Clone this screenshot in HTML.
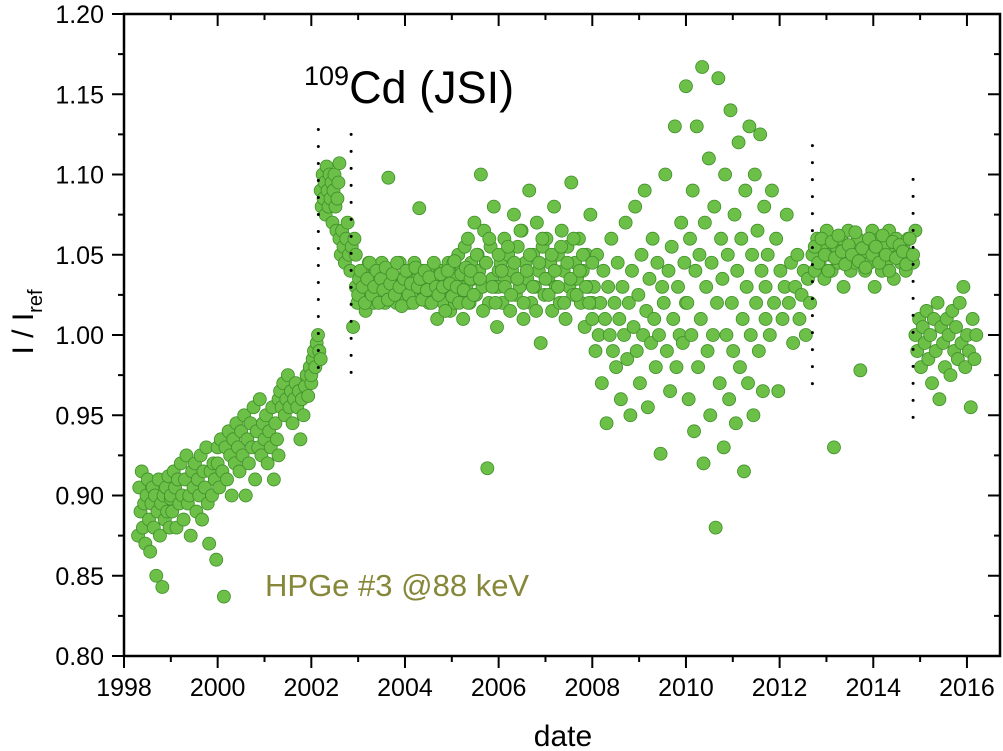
<!DOCTYPE html>
<html><head><meta charset="utf-8"><style>
html,body{margin:0;padding:0;background:#fff;}
svg{display:block;font-family:"Liberation Sans",Arial,sans-serif;}
</style></head><body>
<svg id="chart" width="1003" height="751" xmlns="http://www.w3.org/2000/svg">
<g id="dots"></g>
<g id="vlines"></g>
<g id="axes"></g>
<text x="304" y="103" font-size="45"><tspan font-size="27" dy="-18">109</tspan><tspan dy="18">Cd (JSI)</tspan></text>
<text x="265" y="596" font-size="31" fill="#87873a">HPGe #3 @88 keV</text>
<text transform="translate(33,322) rotate(-90)" font-size="30" text-anchor="middle">I / I<tspan font-size="20" dy="9">ref</tspan></text>
<text x="563" y="746" font-size="30" text-anchor="middle">date</text>
</svg>
<script>
const segStart=[1998.3,1999.0,2000.0,2001.3,2002.0,2002.2,2002.6,2002.95,2005.0,2006.0,2008.0,2010.0,2011.7,2012.7,2014.9,2003.0,2005.4,2012.75];
const segEnd=[1999.0,2000.0,2001.3,2002.0,2002.2,2002.6,2002.95,2005.0,2006.0,2008.0,2010.0,2011.7,2012.65,2014.9,2016.2,2005.4,2008.0,2014.85];
const segValues=[
[0.875,0.905,0.89,0.915,0.88,0.895,0.87,0.9,0.91,0.885,0.865,0.895,0.905,0.88,0.9,0.85,0.89,0.91,0.875,0.895,0.843,0.9,0.885,0.905,0.89,0.912,0.88,0.898],
[0.9,0.89,0.915,0.905,0.88,0.91,0.895,0.92,0.9,0.885,0.91,0.925,0.895,0.9,0.875,0.915,0.905,0.92,0.89,0.91,0.9,0.925,0.885,0.915,0.905,0.93,0.895,0.87,0.915,0.9,0.92,0.91,0.86,0.93],
[0.92,0.905,0.935,0.915,0.837,0.93,0.91,0.94,0.925,0.9,0.935,0.92,0.945,0.93,0.915,0.94,0.925,0.95,0.9,0.935,0.92,0.945,0.93,0.955,0.91,0.94,0.93,0.96,0.925,0.945,0.935,0.95,0.92,0.94,0.93,0.955,0.91,0.945,0.935,0.925],
[0.96,0.965,0.955,0.97,0.95,0.96,0.975,0.955,0.965,0.945,0.96,0.97,0.955,0.965,0.935,0.96,0.95,0.968,0.975,0.962,0.98,0.97],
[0.975,0.985,0.99,0.98,0.995,1.0,0.99,0.985],
[1.09,1.08,1.1,1.085,1.095,1.075,1.105,1.09,1.08,1.1,1.085,1.095,1.07,1.09,1.1,1.08,1.065,1.085,1.095,1.107],
[1.06,1.05,1.065,1.055,1.045,1.06,1.07,1.05,1.04,1.055,1.005,1.06,1.05],
[1.03,1.02,1.035,1.025,1.04,1.03,1.015,1.035,1.045,1.025,1.03,1.02,1.04,1.03,1.035,1.025,1.045,1.03,1.02,1.035,1.098,1.03,1.04,1.025,1.035,1.02,1.03,1.045,1.03,1.035,1.025,1.04,1.03,1.02,1.035,1.03,1.045,1.025,1.035,1.079,1.03,1.04,1.025,1.03,1.035,1.02,1.04,1.03,1.025,1.035,1.01,1.03,1.04,1.025,1.02,1.035,1.03,1.045,1.015,1.03],
[1.03,1.045,1.02,1.035,1.05,1.025,1.04,1.01,1.055,1.03,1.06,1.02,1.045,1.035,1.07,1.025,1.05,1.04,1.1,1.03,1.065,1.045,0.917,1.02,1.055,1.035,1.08,1.03,1.005,1.04],
[1.03,1.045,1.02,1.06,1.035,1.05,1.015,1.04,1.075,1.025,1.055,1.03,1.065,1.01,1.045,1.035,1.09,1.02,1.05,1.03,1.07,1.04,0.995,1.055,1.025,1.06,1.035,1.045,1.015,1.08,1.03,1.05,1.02,1.065,1.04,1.01,1.055,1.03,1.095,1.025,1.045,1.035,1.06,1.02,1.04,1.005,1.05,1.03,1.075,1.02],
[1.01,1.03,0.99,1.05,1.0,1.02,0.97,1.04,1.01,0.945,1.03,1.0,1.06,0.99,1.02,0.98,1.045,1.01,0.96,1.03,1.0,1.07,0.985,1.02,0.95,1.04,1.005,1.08,0.99,1.025,0.97,1.05,1.0,1.09,1.015,0.955,1.035,0.995,1.06,1.01,0.98,1.045,1.0,0.926,1.03,1.02,1.1,0.99,1.04,0.965,1.055,1.01,1.13,0.98,1.03,1.0,1.07,0.995,1.045,1.02],
[1.155,1.02,0.96,1.06,1.0,1.09,0.94,1.04,1.13,0.98,1.05,1.01,1.167,0.92,1.07,1.03,0.99,1.11,0.95,1.045,1.0,1.08,0.88,1.02,1.16,0.97,1.06,1.035,0.93,1.1,1.0,1.05,0.96,1.14,1.02,0.99,1.075,0.945,1.04,1.12,0.98,1.06,1.01,0.915,1.09,1.03,0.97,1.13,1.0,1.05,0.95,1.1,1.02,1.065,0.99,1.125,1.04,0.965,1.08,1.01],
[1.03,1.05,1.0,1.09,1.02,1.06,0.965,1.04,1.01,1.03,1.075,1.02,1.045,0.995,1.03,1.05,1.01,1.025,1.04,1.0,1.035,1.02],
[1.05,1.04,1.06,1.045,1.055,1.035,1.065,1.05,1.04,0.93,1.055,1.045,1.06,1.03,1.05,1.065,1.04,1.055,1.045,1.06,0.978,1.05,1.04,1.055,1.045,1.065,1.03,1.05,1.06,1.04,1.055,1.045,1.065,1.05,1.035,1.06,1.05,1.045,1.055,1.04,1.06,1.05,1.045,1.065],
[1.0,0.99,1.01,0.98,1.005,0.995,1.015,0.985,1.0,0.97,1.01,0.99,1.02,0.96,1.005,0.995,0.98,1.01,1.0,0.975,1.015,0.99,1.005,0.985,1.02,0.995,1.03,0.98,1.0,0.99,0.955,1.01,0.985,1.0],
[1.025,1.04,1.03,1.02,1.035,1.045,1.025,1.03,1.04,1.02,1.035,1.028,1.042,1.022,1.032,1.038,1.025,1.045,1.03,1.018,1.035,1.04,1.025,1.032,1.02,1.042,1.03,1.035,1.022,1.04,1.028,1.036,1.02,1.045,1.03,1.025,1.038,1.03,1.015,1.04,1.032,1.024,1.046,1.03,1.02,1.038,1.028,1.042,1.02,1.035],
[1.04,1.025,1.05,1.035,1.015,1.045,1.06,1.03,1.02,1.05,1.04,1.03,1.055,1.025,1.045,1.035,1.065,1.02,1.04,1.05,1.03,1.015,1.045,1.06,1.035,1.025,1.05,1.04,1.03,1.055,1.02,1.045,1.035,1.06,1.025,1.04,1.05,1.03,1.02,1.045],
[1.055,1.045,1.06,1.05,1.04,1.058,1.048,1.062,1.052,1.044,1.056,1.05,1.064,1.046,1.054,1.042,1.06,1.05,1.055,1.045,1.062,1.05,1.04,1.058,1.048,1.056,1.052,1.044,1.06,1.05]
];
const boundaryDates=[2002.15,2002.85,2012.7,2014.85];
const boundaryTop=[1.128,1.125,1.118,1.097];
const boundaryBottom=[0.975,0.972,0.966,0.945];
const xTicks=[1998,2000,2002,2004,2006,2008,2010,2012,2014,2016];
const yTicks=[0.80,0.85,0.90,0.95,1.00,1.05,1.10,1.15,1.20];

const X0=124,X1=1000,Y0=656,Y1=14;
const xs=d=>124+(d-1998)*46.83;
const ys=v=>656-(v-0.80)*1605;
const NS="http://www.w3.org/2000/svg";
function mk(tag,attrs,parent){const e=document.createElementNS(NS,tag);for(const k in attrs)e.setAttribute(k,attrs[k]);parent.appendChild(e);return e;}

const dots=document.getElementById('dots');
segValues.forEach((vals,s)=>{
  const n=vals.length;
  vals.forEach((v,i)=>{
    const d=segStart[s]+(n>1?i*(segEnd[s]-segStart[s])/(n-1):0);
    const c=mk('circle',{cx:xs(d),cy:ys(v),r:6.5,fill:'#6cbf47',stroke:'#3f8f2a','stroke-width':0.8},dots);
    
    
  });
});

const vl=document.getElementById('vlines');
boundaryDates.forEach((d,i)=>{
  const l=mk('line',{x1:xs(d),x2:xs(d),y1:ys(boundaryTop[i]),y2:ys(boundaryBottom[i]),stroke:'#000','stroke-width':3,'stroke-dasharray':'0 17','stroke-linecap':'round'},vl);
  
  
});

const ax=document.getElementById('axes');
const fr=mk('rect',{x:X0,y:Y1,width:X1-X0,height:Y0-Y1,fill:'none',stroke:'#000','stroke-width':2.5},ax);


xTicks.forEach((t,i)=>{
  const x=xs(t);
  mk('line',{x1:x,x2:x,y1:Y0,y2:Y0+12,stroke:'#000','stroke-width':2},ax);
  mk('line',{x1:x,x2:x,y1:Y1,y2:Y1+12,stroke:'#000','stroke-width':2},ax);
  const xm=xs(t+1);
  if(xm<X1){mk('line',{x1:xm,x2:xm,y1:Y0,y2:Y0+6,stroke:'#000','stroke-width':2},ax);mk('line',{x1:xm,x2:xm,y1:Y1,y2:Y1+6,stroke:'#000','stroke-width':2},ax);}
  const tx=mk('text',{x:x,y:Y0+40,'font-size':25,'text-anchor':'middle'},ax);
  tx.textContent=t;
  
  
});
yTicks.forEach((t,i)=>{
  const y=ys(t);
  mk('line',{x1:X0-12,x2:X0,y1:y,y2:y,stroke:'#000','stroke-width':2},ax);
  mk('line',{x1:X1-12,x2:X1,y1:y,y2:y,stroke:'#000','stroke-width':2},ax);
  if(i<yTicks.length-1){const ym=ys(t+0.025);mk('line',{x1:X0-6,x2:X0,y1:ym,y2:ym,stroke:'#000','stroke-width':2},ax);mk('line',{x1:X1-6,x2:X1,y1:ym,y2:ym,stroke:'#000','stroke-width':2},ax);}
  const tx=mk('text',{x:X0-20,y:y+9,'font-size':25,'text-anchor':'end'},ax);
  tx.textContent=t.toFixed(2);
  
  
});
</script>
</body></html>
